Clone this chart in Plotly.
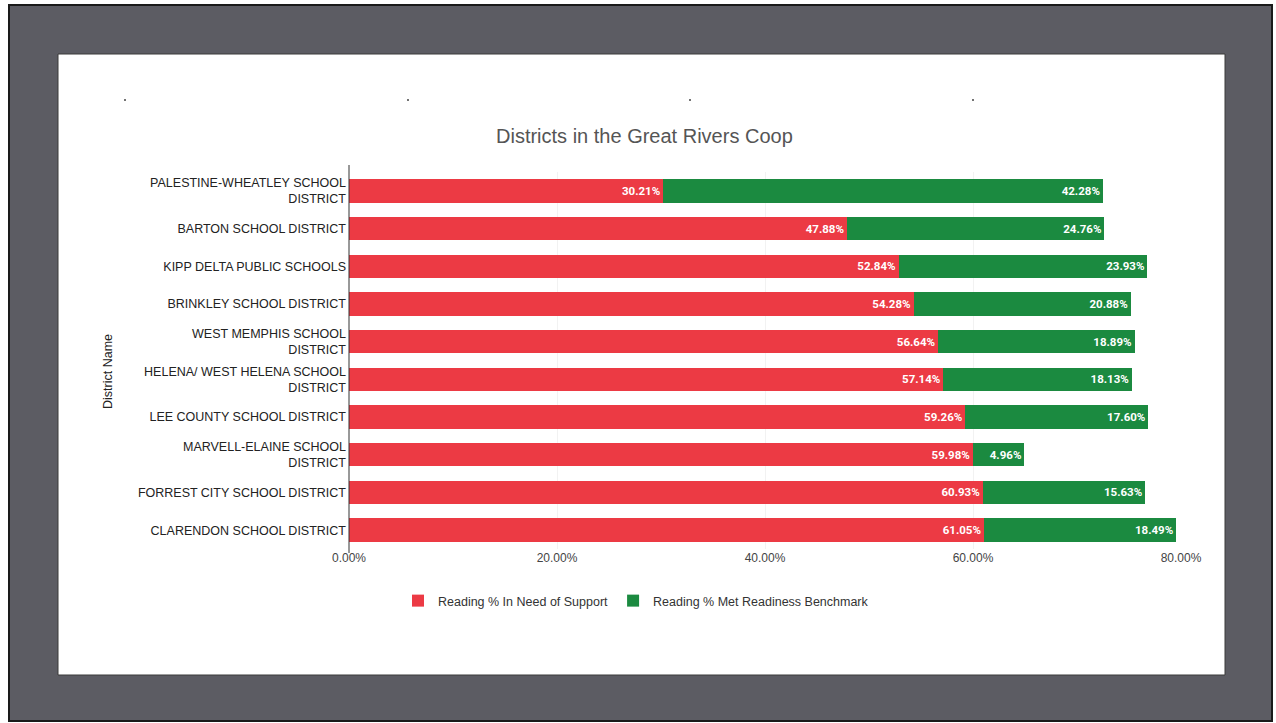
import plotly.graph_objects as go

districts = [
    "PALESTINE-WHEATLEY SCHOOL<br>DISTRICT",
    "BARTON SCHOOL DISTRICT",
    "KIPP DELTA PUBLIC SCHOOLS",
    "BRINKLEY SCHOOL DISTRICT",
    "WEST MEMPHIS SCHOOL<br>DISTRICT",
    "HELENA/ WEST HELENA SCHOOL<br>DISTRICT",
    "LEE COUNTY SCHOOL DISTRICT",
    "MARVELL-ELAINE SCHOOL<br>DISTRICT",
    "FORREST CITY SCHOOL DISTRICT",
    "CLARENDON SCHOOL DISTRICT",
]
need_support = [30.21, 47.88, 52.84, 54.28, 56.64, 57.14, 59.26, 59.98, 60.93, 61.05]
met_benchmark = [42.28, 24.76, 23.93, 20.88, 18.89, 18.13, 17.60, 4.96, 15.63, 18.49]
x_ticks = [0, 20, 40, 60, 80]

RED = "#ec3a44"
GREEN = "#1b8a40"
FONT = "Liberation Sans"

fig = go.Figure()
fig.add_trace(go.Bar(
    y=districts, x=need_support, orientation="h",
    name="Reading % In Need of Support",
    marker=dict(color=RED, line=dict(width=0)),
    text=[f"{v:.2f}%" for v in need_support],
    textposition="inside", insidetextanchor="end",
    textfont=dict(color="white", size=11.5, family="Roboto", weight="bold"),
    cliponaxis=False,
))
fig.add_trace(go.Bar(
    y=districts, x=met_benchmark, orientation="h",
    name="Reading % Met Readiness Benchmark",
    marker=dict(color=GREEN, line=dict(width=0)),
    text=[f"{v:.2f}%" for v in met_benchmark],
    textposition="inside", insidetextanchor="end",
    textfont=dict(color="white", size=11.5, family="Roboto", weight="bold"),
    cliponaxis=False,
))

# plot area: x 349..1181, y 172..549
L, R, T, B = 349, 1181, 172, 549
W, H = R - L, B - T
def px(x):
    return (x - L) / W
def py(y):
    return (B - y) / H

shapes = [
    dict(type="rect", xref="paper", yref="paper", x0=px(9), x1=px(1272), y0=py(721), y1=py(5),
         fillcolor="#5c5c63", line=dict(color="#1a1a1a", width=2), layer="below"),
    dict(type="rect", xref="paper", yref="paper", x0=px(58), x1=px(1225), y0=py(675), y1=py(54),
         fillcolor="white", line=dict(color="#3a3a3a", width=1), layer="below"),
    dict(type="line", xref="paper", yref="paper", x0=0, x1=0, y0=py(553), y1=py(165),
         line=dict(color="#333333", width=1)),
]
for dx in [125, 408, 690, 973]:
    shapes.append(dict(type="circle", xref="paper", yref="paper",
                       x0=px(dx - 1), x1=px(dx + 1), y0=py(101), y1=py(99),
                       fillcolor="#444444", line=dict(width=0)))

annotations = [
    dict(text="Districts in the Great Rivers Coop", xref="paper", yref="paper",
         x=px(644), y=py(136), xanchor="center", yanchor="middle", showarrow=False,
         font=dict(size=20, color="#555555", family=FONT)),
    dict(text="District Name", xref="paper", yref="paper", x=px(108), y=py(371),
         xanchor="center", yanchor="middle", textangle=-90, showarrow=False,
         font=dict(size=12.5, color="#222222", family=FONT)),
]

fig.update_layout(
    width=1276, height=723,
    barmode="stack", bargap=0.38,
    paper_bgcolor="white", plot_bgcolor="white",
    margin=dict(l=L, r=1276 - R, t=T, b=723 - B, autoexpand=False),
    showlegend=True,
    legend=dict(orientation="h", x=px(398), y=py(601), xanchor="left", yanchor="middle",
                font=dict(size=12.5, color="#333333", family=FONT),
                bgcolor="rgba(0,0,0,0)", itemwidth=30, traceorder="normal"),
    shapes=shapes, annotations=annotations,
)
fig.update_xaxes(range=[0, 80], tickvals=x_ticks, ticktext=[f"{v:.2f}%" for v in x_ticks],
                 showgrid=True, gridcolor="#f2f2f2", zeroline=False, showline=False,
                 tickfont=dict(size=12, color="#444444", family=FONT),
                 ticks="", ticklen=0)
fig.update_yaxes(autorange="reversed", showline=False,
                 tickfont=dict(size=12.5, color="#222222", family=FONT),
                 ticks="", ticklabelstandoff=2, showgrid=False)

fig.write_html("out.html", config={"displayModeBar": False},
               post_script="document.body.style.margin='0';document.body.style.overflow='hidden';")
